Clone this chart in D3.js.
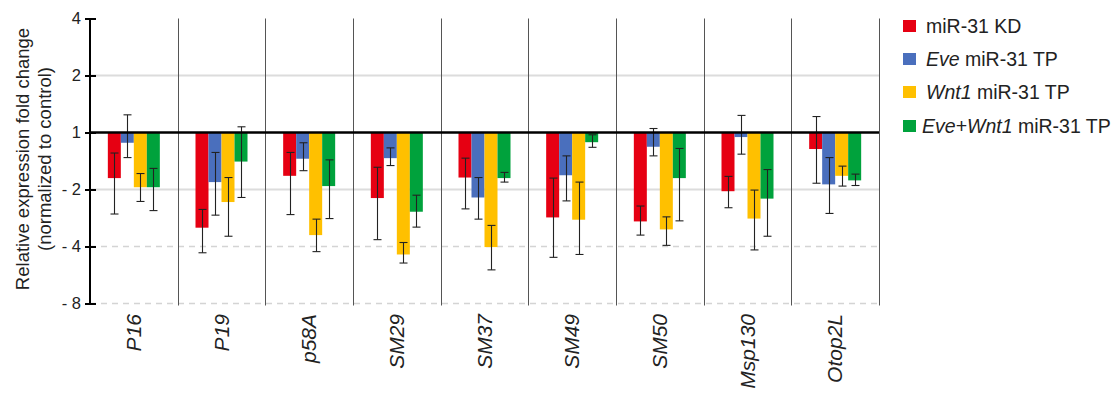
<!DOCTYPE html>
<html><head><meta charset="utf-8">
<script src="https://cdn.jsdelivr.net/npm/d3@7"></script>
<style>
body{margin:0;background:#fff;}
text{font-family:"Liberation Sans",Arial,sans-serif;}
</style></head>
<body><svg id="c" width="1115" height="395"></svg>
<script>
// Values are log2 fold change (tick "-2" = 0.5-fold)
const genes = ["P16","P19","p58A","SM29","SM37","SM49","SM50","Msp130","Otop2L"];
const seriesNames = ["miR-31 KD","Eve miR-31 TP","Wnt1 miR-31 TP","Eve+Wnt1 miR-31 TP"];
const seriesColors = ["#e60012","#4a6fbd","#ffc000","#00a23c"];
const kd      = [-0.80,-1.67,-0.76,-1.15,-0.79,-1.49,-1.56,-1.03,-0.29];
const kdLo    = [-1.43,-2.11,-1.44,-1.88,-1.34,-2.19,-1.80,-1.32,-0.89];
const kdHi    = [-0.36,-1.35,-0.35,-0.61,-0.45,-0.80,-1.29,-0.77, 0.28];
const eve     = [-0.18,-0.87,-0.46,-0.45,-1.14,-0.75,-0.25,-0.08,-0.91];
const eveLo   = [-0.44,-1.45,-0.67,-0.58,-1.52,-1.20,-0.41,-0.38,-1.42];
const eveHi   = [ 0.31,-0.35,-0.18,-0.27,-0.79,-0.41, 0.07, 0.30,-0.44];
const wnt     = [-0.96,-1.22,-1.80,-2.14,-2.01,-1.53,-1.70,-1.51,-0.76];
const wntLo   = [-1.21,-1.82,-2.09,-2.29,-2.41,-2.14,-1.98,-2.06,-0.94];
const wntHi   = [-0.72,-0.79,-1.52,-1.93,-1.63,-0.87,-1.48,-1.01,-0.59];
const both    = [-0.96,-0.51,-0.94,-1.39,-0.80,-0.17,-0.80,-1.16,-0.84];
const bothLo  = [-1.37,-1.14,-1.51,-1.66,-0.87,-0.26,-1.55,-1.82,-0.93];
const bothHi  = [-0.63, 0.10,-0.48,-1.10,-0.70,-0.04,-0.28,-0.65,-0.73];
const tickValues = [2,1,0,-1,-2,-3];
const tickLabels = ["4","2","1","- 2","- 4","- 8"];

const series = [
  {vals:kd, lo:kdLo, hi:kdHi},
  {vals:eve, lo:eveLo, hi:eveHi},
  {vals:wnt, lo:wntLo, hi:wntHi},
  {vals:both, lo:bothLo, hi:bothHi}
];

const svg = d3.select("#c");
const L = 90, R = 879, T = 18.5, B = 303.5;
const y = d3.scaleLinear().domain([2,-3]).range([T,B]);
const x = d3.scaleBand().domain(genes).range([L,R]).paddingInner(0).paddingOuter(0);
const bw = 13;
const xs = d3.scaleBand().domain(d3.range(4)).range([0,bw*4]);

// gridlines
const grid = svg.append("g");
[1,-1].forEach(v=>grid.append("line").attr("x1",L).attr("x2",R).attr("y1",y(v)).attr("y2",y(v))
  .attr("stroke","#dcdcdc").attr("stroke-width",2));
[-2,-3].forEach(v=>grid.append("line").attr("x1",L).attr("x2",R).attr("y1",y(v)).attr("y2",y(v))
  .attr("stroke","#d4d4d4").attr("stroke-width",1.5).attr("stroke-dasharray","6,5"));

// dividers
genes.forEach((g,i)=>{
  const xx = Math.round(x(g)+x.bandwidth())+0.5;
  svg.append("line").attr("x1",xx).attr("x2",xx).attr("y1",T).attr("y2",B+2)
    .attr("stroke","#555").attr("stroke-width",1);
});

// bars
series.forEach((s,si)=>{
  const g = svg.append("g");
  genes.forEach((gene,i)=>{
    const x0 = x(gene)+x.bandwidth()/2 - bw*2 + xs(si);
    const v = s.vals[i];
    g.append("rect").attr("x",x0).attr("width",bw)
      .attr("y",Math.min(y(0),y(v))).attr("height",Math.abs(y(v)-y(0)))
      .attr("fill",seriesColors[si]);
  });
});
// error bars
series.forEach((s,si)=>{
  const g = svg.append("g").attr("stroke","#222").attr("stroke-width",1.1);
  genes.forEach((gene,i)=>{
    const cx = Math.round(x(gene)+x.bandwidth()/2 - bw*2 + xs(si) + bw/2)+0.5;
    g.append("line").attr("x1",cx).attr("x2",cx).attr("y1",y(s.lo[i])).attr("y2",y(s.hi[i]));
    [s.lo[i],s.hi[i]].forEach(v=>g.append("line").attr("x1",cx-4).attr("x2",cx+4).attr("y1",y(v)).attr("y2",y(v)));
  });
});

// baseline at 1
svg.append("line").attr("x1",L).attr("x2",R).attr("y1",y(0)).attr("y2",y(0))
  .attr("stroke","#000").attr("stroke-width",2.5);

// y axis
const ax = svg.append("g").attr("transform",`translate(${L},0)`)
  .call(d3.axisLeft(y).tickValues(tickValues).tickFormat((d,i)=>tickLabels[i]).tickSize(6).tickPadding(6));
ax.select(".domain").attr("stroke","#000").attr("stroke-width",2).attr("d",`M0,${T}V${B}`);
ax.selectAll(".tick line").attr("x1",-5).attr("x2",6).attr("stroke","#000").attr("stroke-width",2);
ax.selectAll(".tick text").attr("font-size",16.5).attr("fill","#222").attr("x",-9)
  .style("font-family","'Liberation Sans',Arial,sans-serif");

// y title
const yt = svg.append("text").attr("transform","translate(0,159) rotate(-90)")
  .attr("text-anchor","middle").attr("font-size",18.5).attr("fill","#222");
yt.append("tspan").attr("x",0).attr("y",29).text("Relative expression fold change");
yt.append("tspan").attr("x",0).attr("y",51).text("(normalized to control)");

// x labels
genes.forEach(g=>{
  svg.append("text")
    .attr("transform",`translate(${x(g)+x.bandwidth()/2+7},314) rotate(-90)`)
    .attr("text-anchor","end").attr("font-size",21).attr("font-style","italic")
    .attr("fill","#222").text(g);
});

// legend
const legY = [26,59,92,126];
const lg = svg.append("g");
seriesNames.forEach((n,i)=>{
  lg.append("rect").attr("x",903).attr("y",legY[i]-6).attr("width",13).attr("height",12).attr("fill",seriesColors[i]);
  const t = lg.append("text").attr("x",i===3?922:926).attr("y",legY[i]+7).attr("font-size",19.5).attr("fill","#222");
  if(i===0){ t.text(n); }
  else if(i===1){ t.append("tspan").attr("font-style","italic").text("Eve"); t.append("tspan").text(" miR-31 TP"); }
  else if(i===2){ t.append("tspan").attr("font-style","italic").text("Wnt1"); t.append("tspan").text(" miR-31 TP"); }
  else { t.append("tspan").attr("font-style","italic").text("Eve+Wnt1"); t.append("tspan").text(" miR-31 TP"); }
});
</script></body></html>
